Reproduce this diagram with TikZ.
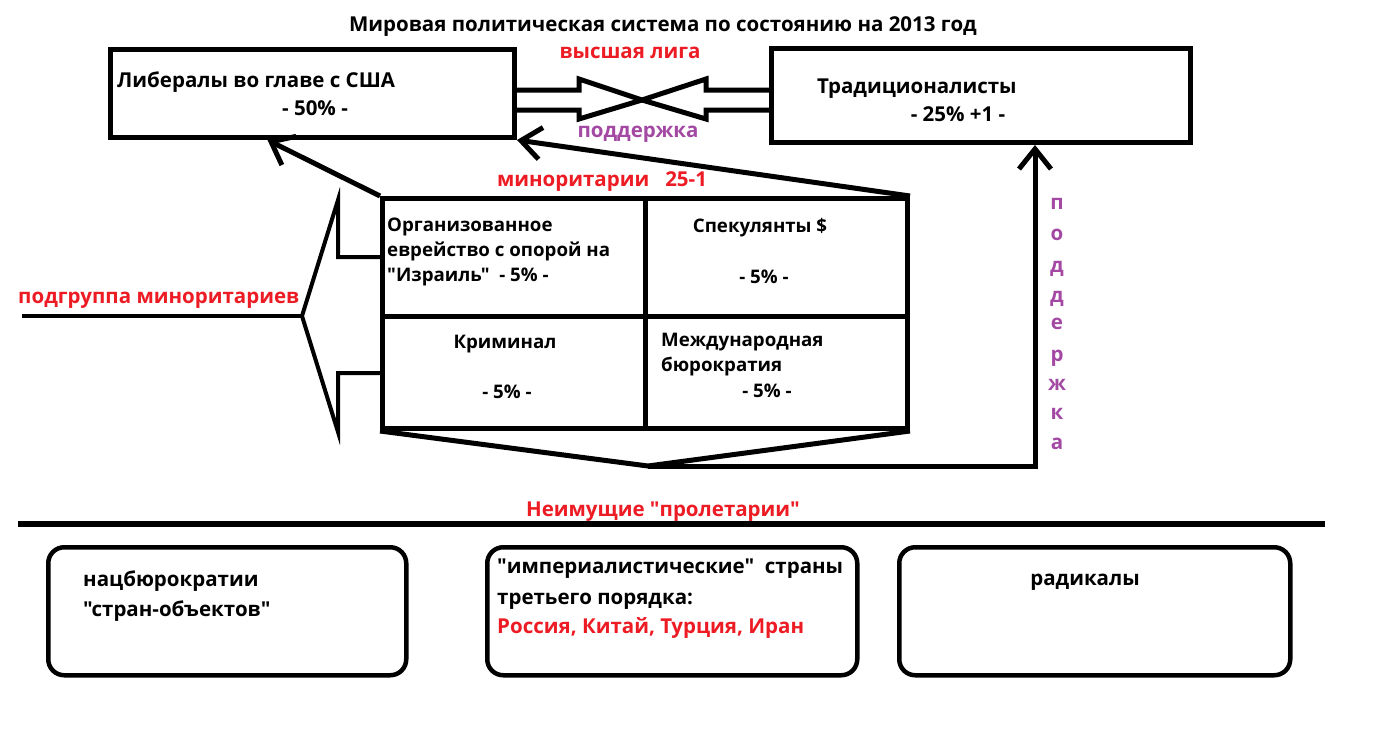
\documentclass[tikz,border=0pt]{standalone}
\usepackage{fontspec}
\setmainfont{Open Sans}[Ligatures=TeXOff]
\usetikzlibrary{arrows.meta,calc}
\definecolor{pred}{RGB}{237,28,36}
\definecolor{ppurple}{RGB}{163,73,164}
\newcommand{\rtext}[1]{\textcolor{pred}{#1}}

\begin{document}
\begin{tikzpicture}[x=1pt, y=-1pt,
    frame/.style={draw, line width=5pt, anchor=north west, inner sep=0pt},
    rbox/.style={draw, line width=4.5pt, rounded corners=16pt, anchor=north west, inner sep=0pt},
    txt/.style={font=\bfseries\fontsize{20.5}{24}\selectfont, inner sep=0pt, anchor=base west},
    cell/.style={txt, font=\bfseries\fontsize{18.7}{22}\selectfont},
    hot/.style={text=pred},
    lilac/.style={text=ppurple},
    arr/.style={line width=5pt, -{Straight Barb[length=20pt, width=32pt]}},
    thick line/.style={line width=5pt, line join=miter}
  ]
  \fill[white] (0,0) rectangle (1374,736);
  \useasboundingbox (0,0) rectangle (1374,736);

  % title
  \node[txt, anchor=base] (title) at (663,31) {Мировая политическая система по состоянию на 2013 год};

  % top league
  \node[frame, minimum width=404pt, minimum height=88pt] (lib) at (108,47) {};
  \node[frame, minimum width=419pt, minimum height=94pt] (trad) at (769,46) {};
  \node[txt] (libname) at (117,87) {Либералы во главе с США};
  \node[txt, anchor=base] (libpct) at (315,115) {- 50\% -};
  \node[txt] (tradname) at (817,93) {Традиционалисты};
  \node[txt, anchor=base] (tradpct) at (958,121) {- 25\% +1 -};
  \node[txt, hot, anchor=base] (league) at (630,58) {высшая лига};
  \node[txt, lilac, anchor=base] (supp) at (638,137) {поддержка};

  % crossed block arrows
  \coordinate (mid) at (642,100);
  \draw[thick line] (lib.east |- 0,90) -- (579,90) -- (579,79) -- (mid) -- (579,119) -- (579,110) -- (lib.east |- 0,110);
  \draw[thick line] (trad.west |- 0,90) -- (706,90) -- (706,79) -- (mid) -- (706,119) -- (706,110) -- (trad.west |- 0,110);

  % minorities
  \node[txt, hot, anchor=base] (minor) at (602,186) {миноритарии\ \ \ 25-1};
  \node[frame, minimum width=525pt, minimum height=230pt] (mino) at (380,196) {};
  \draw[line width=5pt] (mino.north) -- (mino.south);
  \draw[line width=5pt] (mino.west |- 0,316) -- (mino.east |- 0,316);

  \node[cell] (jew1) at (387,231) {Организованное};
  \node[cell] (jew2) at (387,256) {еврейство с опорой на};
  \node[cell] (jew3) at (387,281) {"Израиль"\ \ - 5\% -};
  \node[cell, anchor=base] (spec) at (760,232) {Спекулянты \$};
  \node[cell, anchor=base] (specpct) at (764,283) {- 5\% -};
  \node[cell, anchor=base] (crim) at (505,348) {Криминал};
  \node[cell, anchor=base] (crimpct) at (507,398) {- 5\% -};
  \node[cell] (bur1) at (661,346) {Международная};
  \node[cell] (bur2) at (661,371) {бюрократия};
  \node[cell, anchor=base] (burpct) at (767,397) {- 5\% -};

  \draw[arr] (mino.north east) -- (lib.south east);
  \draw[arr] (mino.north west) -- ($(lib.south west)!0.39!(lib.south east)$);

  % subgroup block arrow
  \coordinate (tip) at (302,316);
  \coordinate (lend) at (22,316);
  \draw[line width=4pt, line join=miter] (mino.west |- 0,257) -- (338,257) -- (338,200) -- (tip) -- (338,432) -- (338,373) -- (mino.west |- 0,373);
  \draw[line width=4pt] (lend) -- (tip);
  \node[txt, hot] (subgr) at (18,303) {подгруппа миноритариев};

  % support of traditionalists
  \coordinate (funnel) at (648,466);
  \coordinate (turn) at (1035,466);
  \draw[thick line] (mino.south west) -- (funnel) -- (mino.south east);
  \draw[arr] (funnel) -- (turn) -- (turn |- trad.south);
  \foreach \ch/\yy [count=\i] in {п/203,о/234,д/266,д/296,е/323,р/355,ж/384,к/413,а/443}
    \node[txt, lilac, anchor=base] (v\i) at (1057,\yy+6) {\ch};

  % proletarians
  \node[txt, hot, anchor=base] (prol) at (663,516) {Неимущие "пролетарии"};
  \coordinate (sepl) at (18,524);
  \coordinate (sepr) at (1325,524);
  \draw[line width=6pt] (sepl) -- (sepr);

  \node[rbox, minimum width=358pt, minimum height=128pt] (natb) at (46,545) {};
  \node[rbox, minimum width=370pt, minimum height=128pt] (imp) at (485,545) {};
  \node[rbox, minimum width=391pt, minimum height=128pt] (rad) at (897,545) {};

  \node[txt] (natb1) at (83,586) {нацбюрократии};
  \node[txt] (natb2) at (83,616) {"стран-объектов"};
  \node[txt] (imp1) at (497,573) {"империалистические"\ \ страны};
  \node[txt] (imp2) at (497,604) {третьего порядка:};
  \node[txt, hot] (imp3) at (497,633) {Россия, Китай, Турция, Иран};
  \node[txt, anchor=base] (rad1) at (1085,585) {радикалы};
\end{tikzpicture}
\end{document}
